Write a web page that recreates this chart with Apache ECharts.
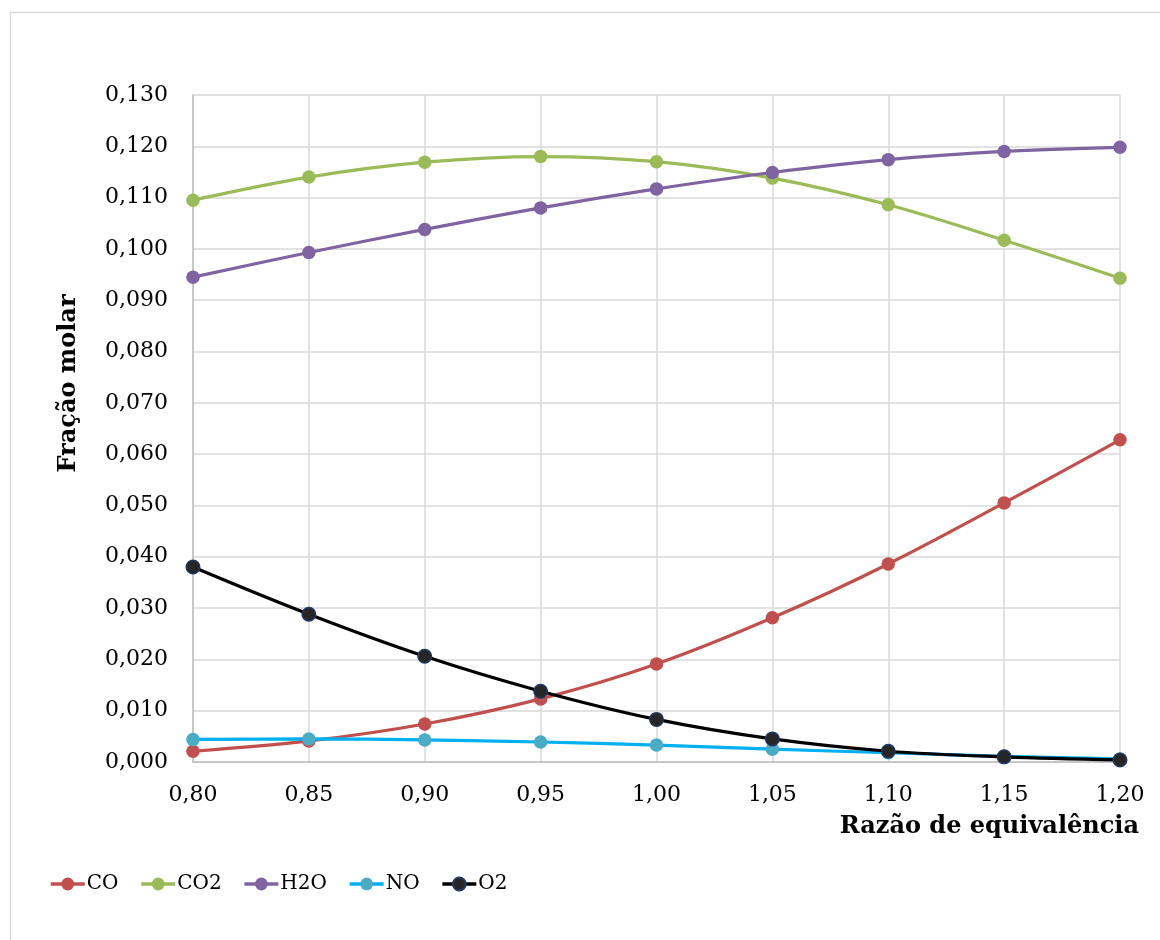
<!DOCTYPE html>
<html>
<head>
<meta charset="utf-8">
<script src="https://cdn.jsdelivr.net/npm/echarts@6/dist/echarts.min.js"></script>
<style>
  html, body { margin: 0; padding: 0; background: #ffffff; }
  #chart { width: 1160px; height: 940px; }
</style>
</head>
<body>
<div id="chart"></div>
<script>
// Equivalence ratio (x) and molar fractions of each species
const ratios = [0.80, 0.85, 0.90, 0.95, 1.00, 1.05, 1.10, 1.15, 1.20];
const coValues  = [0.0021, 0.0041, 0.0074, 0.0123, 0.0191, 0.0281, 0.0386, 0.0505, 0.0628];
const co2Values = [0.1095, 0.1140, 0.1169, 0.1180, 0.1170, 0.1138, 0.1086, 0.1017, 0.0943];
const h2oValues = [0.0945, 0.0993, 0.1038, 0.1080, 0.1117, 0.1149, 0.1174, 0.1190, 0.1198];
const noValues  = [0.0044, 0.0045, 0.0043, 0.0039, 0.0033, 0.0025, 0.0018, 0.0011, 0.0006];
const o2Values  = [0.0380, 0.0288, 0.0206, 0.0138, 0.0083, 0.0045, 0.0021, 0.0010, 0.0004];

const seriesNames = ['CO', 'CO2', 'H2O', 'NO', 'O2'];

const FONT = 'DejaVu Serif';

function pairs(values) {
  return ratios.map((x, i) => [x, values[i]]);
}

function lineSeries(name, values, lineColor, markerColor, markerBorder) {
  return {
    name: name,
    type: 'line',
    data: pairs(values),
    smooth: 0.35,
    symbol: 'circle',
    symbolSize: 13.5,
    lineStyle: { color: lineColor, width: 3.2 },
    itemStyle: {
      color: markerColor,
      borderColor: markerBorder || markerColor,
      borderWidth: markerBorder ? 1.5 : 0
    },
    emphasis: { disabled: true }
  };
}

const chart = echarts.init(document.getElementById('chart'), null, { renderer: 'canvas' });

chart.setOption({
  animation: false,
  backgroundColor: '#ffffff',
  graphic: [{
    type: 'rect',
    shape: { x: 10.5, y: 12.5, width: 1300, height: 1100 },
    style: { fill: 'none', stroke: '#D9D9D9', lineWidth: 1.5 },
    z: -10
  }],
  grid: { left: 193, top: 95, right: 40, bottom: 178, containLabel: false },
  legend: {
    left: 49,
    top: 874,
    padding: 0,
    itemWidth: 34,
    itemHeight: 16,
    itemGap: 21,
    data: seriesNames,
    lineStyle: { width: 3.5 },
    textStyle: { fontFamily: FONT, fontSize: 20, color: '#000000', padding: [0, 0, 0, -3] }
  },
  xAxis: {
    type: 'value',
    min: 0.80,
    max: 1.20,
    interval: 0.05,
    name: 'Razão de equivalência',
    nameLocation: 'end',
    nameGap: 19,
    nameTextStyle: {
      fontFamily: FONT, fontSize: 24, fontWeight: 'bold', color: '#000000',
      align: 'right', verticalAlign: 'top', padding: [53, 0, 0, 0]
    },
    axisLine: { show: true, lineStyle: { color: '#BFBFBF', width: 1.5 } },
    axisTick: { show: false },
    splitLine: { show: true, lineStyle: { color: '#D9D9D9', width: 1.5 } },
    axisLabel: {
      margin: 22,
      fontFamily: FONT, fontSize: 22, color: '#000000',
      formatter: v => v.toFixed(2).replace('.', ',')
    }
  },
  yAxis: {
    type: 'value',
    min: 0,
    max: 0.13,
    interval: 0.01,
    name: 'Fração molar',
    nameLocation: 'middle',
    nameRotate: 90,
    nameGap: 112,
    nameTextStyle: {
      fontFamily: FONT, fontSize: 24, fontWeight: 'bold', color: '#000000',
      padding: [0, 0, 0, 90]
    },
    axisLine: { show: true, lineStyle: { color: '#BFBFBF', width: 1.5 } },
    axisTick: { show: false },
    splitLine: { show: true, lineStyle: { color: '#D9D9D9', width: 1.5 } },
    axisLabel: {
      margin: 25,
      fontFamily: FONT, fontSize: 22, color: '#000000',
      formatter: v => v.toFixed(3).replace('.', ',')
    }
  },
  series: [
    lineSeries('CO', coValues, '#C0504D', '#C0504D'),
    lineSeries('CO2', co2Values, '#9BBB59', '#9BBB59'),
    lineSeries('H2O', h2oValues, '#8064A2', '#8064A2'),
    lineSeries('NO', noValues, '#00B0F0', '#4BACC6'),
    lineSeries('O2', o2Values, '#000000', '#262626', '#1F3864')
  ]
});
</script>
</body>
</html>
